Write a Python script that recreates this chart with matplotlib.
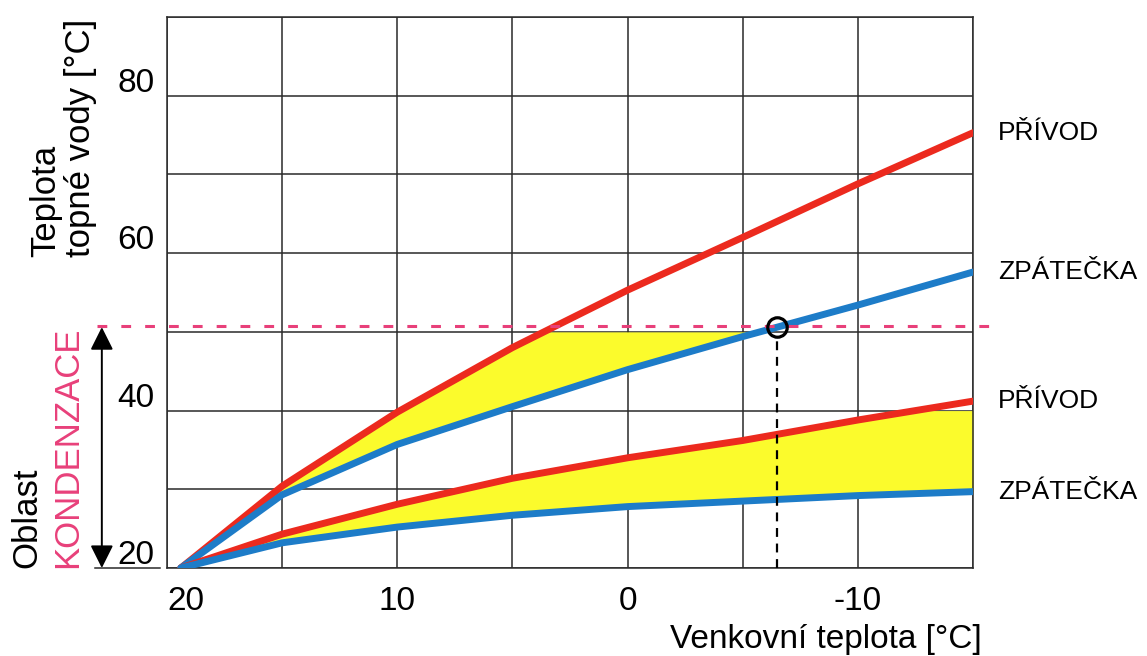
import matplotlib
matplotlib.use("Agg")
import numpy as np
import matplotlib.pyplot as plt
from matplotlib.transforms import ScaledTranslation

plt.rcParams['font.family'] = ['Liberation Sans', 'DejaVu Sans']

# venkovni teplota [°C]
outdoor = [19.4, 15, 10, 5, 0, -5, -10, -15]
# teplota topne vody [°C]
supply_high = [20, 30.4, 39.8, 48.0, 55.3, 62.0, 68.8, 75.3]
return_high = [20, 29.3, 35.7, 40.5, 45.2, 49.4, 53.4, 57.6]
supply_low = [20, 24.3, 28.1, 31.4, 34.0, 36.2, 38.8, 41.2]
return_low = [20, 23.2, 25.2, 26.7, 27.8, 28.5, 29.2, 29.7]

dew_point = 50.7          # hranice kondenzace
cond_limit_high = 50
cond_limit_low = 40
design_point = (-6.5, 50.6)

x_ticks = [20, 10, 0, -10]
y_ticks = [20, 40, 60, 80]

red = '#ec2a1e'
blue = '#1d7cc8'
yellow = '#fbfb2c'
pink = '#e8407a'

fig = plt.figure(figsize=(11.47, 6.56), dpi=100)
ax = fig.add_axes([167/1147, 1-568/656, (973-167)/1147, (568-17)/656])
ax.set_xlim(20, -15)
ax.set_ylim(20, 90)

# mrizka
ax.set_xticks(np.arange(20, -16, -5), minor=True)
ax.set_yticks(np.arange(20, 91, 10), minor=True)
ax.grid(True, which='both', color='#2a2a2a', lw=1.1)
ax.set_axisbelow(True)
for s in ax.spines.values():
    s.set_color('#2a2a2a')
    s.set_linewidth(1.1)

x = np.array(outdoor)
sh, rh = np.array(supply_high), np.array(return_high)
sl, rl = np.array(supply_low), np.array(return_low)

# oblast kondenzace (zluta) - jemna mrizka pro vyplne mezi krivkami
xf = np.linspace(x[0], x[-1], 600)
shf = np.interp(-xf, -x, sh)
rhf = np.interp(-xf, -x, rh)
slf = np.interp(-xf, -x, sl)
rlf = np.interp(-xf, -x, rl)
top_h = np.minimum(shf, cond_limit_high)
ax.fill_between(xf, rhf, np.maximum(top_h, rhf), color=yellow, lw=0, zorder=1)
top_l = np.minimum(slf, cond_limit_low)
ax.fill_between(xf, rlf, np.maximum(top_l, rlf), color=yellow, lw=0, zorder=1)

for ys, c in [(sh, red), (rh, blue), (sl, red), (rl, blue)]:
    ax.plot(x, ys, color=c, lw=5, solid_capstyle='round', solid_joinstyle='round', zorder=3)

# rosny bod
ax.plot([23.05, -16.0], [dew_point, dew_point], color=pink, lw=2.2,
        dashes=(3.2, 4.6), clip_on=False, zorder=4)
ax.plot(design_point[0], design_point[1], 'o', mfc='none', mec='black',
        ms=14, mew=2.3, zorder=5)
ax.plot([design_point[0], design_point[0]], [20, design_point[1] - 1.5],
        color='black', lw=1.6, dashes=(4, 3), zorder=4)

# popisky krivek
labels = ['PŘÍVOD', 'ZPÁTEČKA', 'PŘÍVOD', 'ZPÁTEČKA']
for ys, t in zip([sh, rh, sl, rl], labels):
    ax.text(-16.1, ys[-1], t, fontsize=19, ha='left', va='center', clip_on=False)

# osy
ax.set_xticks(x_ticks)
ax.set_xticklabels([str(v) for v in x_ticks])
ax.set_yticks(y_ticks)
ax.set_yticklabels([str(v) for v in y_ticks])
ax.tick_params(axis='both', which='both', length=0, labelsize=24)
ax.tick_params(axis='x', pad=13)
ax.tick_params(axis='y', pad=9)
for lab in ax.get_yticklabels():
    lab.set_transform(lab.get_transform() + ScaledTranslation(0, 0.16, fig.dpi_scale_trans))
ax.get_xticklabels()[0].set_transform(
    ax.get_xticklabels()[0].get_transform() + ScaledTranslation(0.19, 0, fig.dpi_scale_trans))

fig.text(982/1147, 1-648/656, 'Venkovní teplota [°C]', fontsize=24, ha='right', va='baseline')
fig.text(63/1147, 1-257/656, 'Teplota\ntopné vody [°C]', fontsize=25, rotation=90,
         ha='center', va='bottom', multialignment='left', linespacing=1.05)
fig.text(27/1147, 1-568/656, 'Oblast', fontsize=25, rotation=90, ha='center', va='bottom')
fig.text(68/1147, 1-568/656, 'KONDENZACE', fontsize=25, rotation=90, ha='center',
         va='bottom', color=pink)

# sipka oblasti kondenzace
ax.annotate('', xy=(22.83, 20), xytext=(22.83, 50.6), xycoords='data',
            arrowprops=dict(arrowstyle='<|-|>,head_width=0.35,head_length=0.7',
                            mutation_scale=20, color='black', lw=1.4,
                            shrinkA=0, shrinkB=0),
            annotation_clip=False)
ax.plot([23.13, 20.3], [20, 20], color='#2a2a2a', lw=1.1, clip_on=False)

fig.savefig('out.png', dpi=100)
